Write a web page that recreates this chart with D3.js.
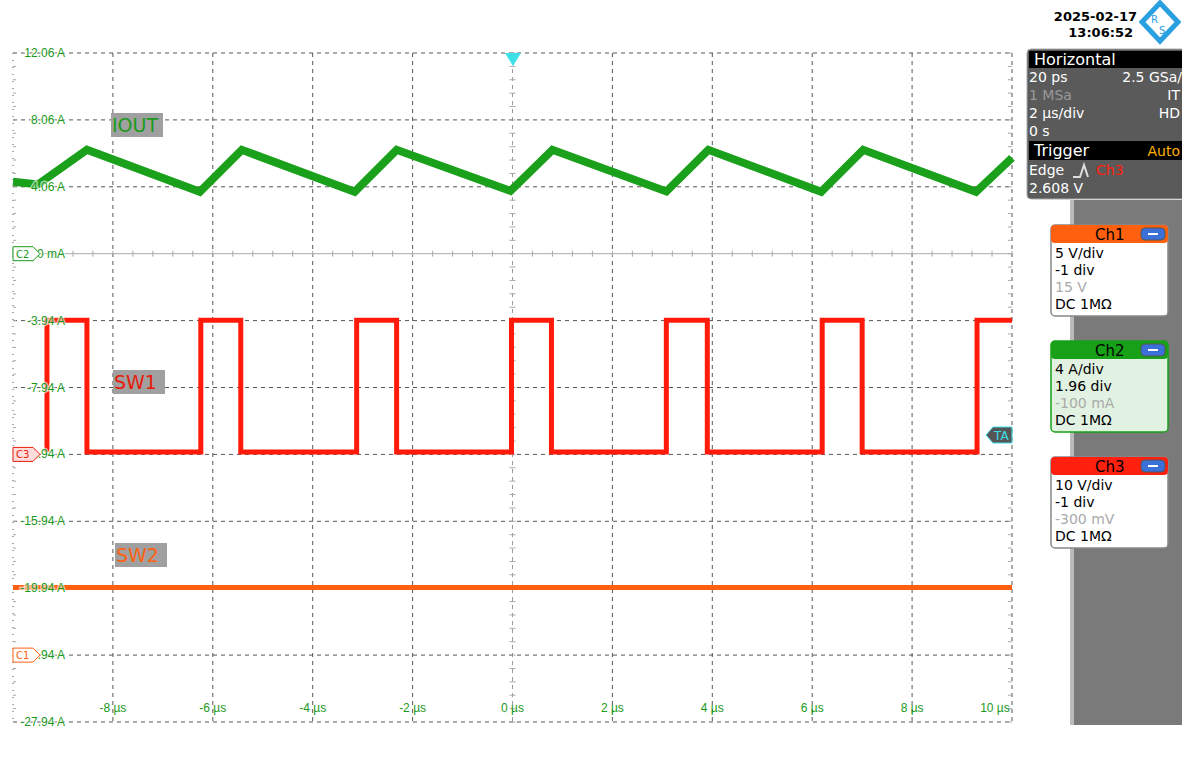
<!DOCTYPE html>
<html><head><meta charset="utf-8">
<script src="https://cdn.jsdelivr.net/npm/d3@7"></script>
<style>body{margin:0;background:#fff}svg{font-family:"DejaVu Sans",sans-serif}</style>
</head><body><svg id="scope" width="1182" height="768"></svg>
<script>
// grid labels
const yTicks = [12.06, 8.06, 4.06, 0.06, -3.94, -7.94, -11.94, -15.94, -19.94, -23.94, -27.94];
const yTickText = ['12.06 A','8.06 A','4.06 A','0 mA','-3.94 A','-7.94 A','-11.94 A','-15.94 A','-19.94 A','-23.94 A','-27.94 A'];
const xTicks = [-8, -6, -4, -2, 0, 2, 4, 6, 8, 10];

// IOUT (A) vertex points, time in us
const ioutT = [-10, -9.5, -8.52, -6.26, -5.42, -3.16, -2.32, -0.04, 0.8, 3.08, 3.92, 6.18, 7.02, 9.28, 10];
const ioutV = [4.36, 4.2, 6.27, 3.76, 6.27, 3.76, 6.27, 3.82, 6.27, 3.78, 6.27, 3.76, 6.27, 3.76, 5.79];

// SW1 edges (us) and levels on the A grid
const sw1Edges = [-9.32, -8.52, -6.24, -5.44, -3.12, -2.32, -0.02, 0.78, 3.08, 3.9, 6.2, 7.0, 9.3];
const sw1High = -3.92, sw1Low = -11.8;
const sw2Level = -19.9;

const svg = d3.select('#scope');
const x = d3.scaleLinear().domain([-10, 10]).range([13, 1012]);
const y = d3.scaleLinear().domain([-27.94, 12.06]).range([722, 53]);

// grid
const g = svg.append('g');
g.selectAll('.vg').data(d3.range(-10, 10.1, 2)).enter().append('line')
  .attr('x1', d => x(d)).attr('x2', d => x(d)).attr('y1', 53).attr('y2', 722)
  .attr('stroke', d => d === 0 ? '#999' : '#555').attr('stroke-dasharray', d => d === -10 ? '1,6' : '4,4');
g.selectAll('.hg').data(yTicks).enter().append('line')
  .attr('x1', 13).attr('x2', 1012).attr('y1', d => y(d)).attr('y2', d => y(d))
  .attr('stroke', d => d === 0.06 ? '#aaa' : '#555').attr('stroke-dasharray', d => d === 0.06 ? null : '4,4');
const minorX = d3.range(-10, 10.01, 0.4);
g.selectAll('.mx').data(minorX).enter().append('line')
  .attr('x1', d => x(d)).attr('x2', d => x(d)).attr('y1', y(0.06) - 3).attr('y2', y(0.06) + 3).attr('stroke', '#aaa');
const minorY = d3.range(-27.94, 12.07, 0.8);
g.selectAll('.my').data(minorY).enter().append('line')
  .attr('x1', x(0) - 3).attr('x2', x(0) + 3).attr('y1', d => y(d)).attr('y2', d => y(d)).attr('stroke', '#aaa');
g.selectAll('.myl').data(minorY).enter().append('line')
  .attr('x1', 13).attr('x2', 16).attr('y1', d => y(d)).attr('y2', d => y(d)).attr('stroke', '#aaa');
g.selectAll('.myr').data(minorY).enter().append('line')
  .attr('x1', 1008).attr('x2', 1012).attr('y1', d => y(d)).attr('y2', d => y(d)).attr('stroke', '#aaa');

// traces
const line = d3.line().x(d => x(d[0])).y(d => y(d[1]));
svg.append('path').datum(ioutT.map((t, i) => [t, ioutV[i]]))
  .attr('d', line).attr('fill', 'none').attr('stroke', '#1aa01a').attr('stroke-width', 8);

const sw1 = [[sw1Edges[0], sw1Low + 0.3]];
sw1Edges.forEach((t, i) => {
  const hiBefore = i % 2 === 1;
  sw1.push([t, hiBefore ? sw1High : sw1Low]);
  sw1.push([t, hiBefore ? sw1Low : sw1High]);
});
sw1.push([10, sw1High]);
svg.append('path').datum(sw1).attr('d', line).attr('fill', 'none')
  .attr('stroke', '#ff1a0a').attr('stroke-width', 5);
svg.append('path').datum([[-10, sw2Level], [10, sw2Level]]).attr('d', line)
  .attr('stroke', '#ff6010').attr('stroke-width', 5);

// y / x labels (on top of traces, like the scope)
svg.selectAll('.yl').data(yTicks).enter().append('text')
  .attr('x', 65).attr('y', d => y(d) + 4).attr('text-anchor', 'end')
  .attr('font-family', 'Liberation Sans, Arial').attr('font-size', 12).attr('fill', '#1a9a1a')
  .attr('paint-order', 'stroke').attr('stroke', 'rgba(255,255,255,0.6)').attr('stroke-width', 3)
  .text((d, i) => yTickText[i]);
svg.selectAll('.xl').data(xTicks).enter().append('text')
  .attr('x', d => d === 10 ? x(d) - 17 : x(d)).attr('y', 712).attr('text-anchor', 'middle')
  .attr('font-family', 'Liberation Sans, Arial').attr('font-size', 12).attr('fill', '#1a9a1a').text(d => d + ' µs');

// channel labels
function tag(txt, px, py, col) {
  svg.append('rect').attr('x', px).attr('y', py).attr('width', 52).attr('height', 24).attr('fill', '#a0a0a0');
  svg.append('text').attr('x', px + 1).attr('y', py + 19).attr('font-size', 19).attr('fill', col).text(txt);
}
tag('IOUT', 111, 113, '#1a9a1a');
tag('SW1', 113, 370, '#e81a0a');
tag('SW2', 115, 543, '#ff6010');

// left markers
function marker(txt, py, col, fill) {
  svg.append('path').attr('d', `M13,${py - 7}H33L40,${py}L33,${py + 7}H13Z`)
    .attr('fill', fill).attr('stroke', col);
  svg.append('text').attr('x', 16).attr('y', py + 4).attr('font-size', 10).attr('fill', col).text(txt);
}
marker('C2', y(0.06), '#1a9a1a', '#fff');
marker('C3', y(-11.94), '#e81a0a', '#fdd');
marker('C1', y(-23.94), '#ff6010', '#fff');

// trigger markers
svg.append('path').attr('d', `M505,53H521L513,66Z`).attr('fill', '#3ee0e8');
svg.append('path').attr('d', 'M986,435L993,427H1012V443H993Z').attr('fill', '#555').attr('stroke', '#3ee0e8');
svg.append('text').attr('x', 994).attr('y', 440).attr('font-size', 12).attr('fill', '#3ee0e8').text('TA');

// right panel
svg.append('rect').attr('x', 1072).attr('y', 200).attr('width', 110).attr('height', 525).attr('fill', '#7a7a7a');
svg.append('rect').attr('x', 1070).attr('y', 200).attr('width', 4).attr('height', 525).attr('fill', '#bbb');
svg.append('text').attr('x', 1137).attr('y', 21).attr('text-anchor', 'end').attr('font-size', 13).attr('font-weight', 'bold').text('2025-02-17');
svg.append('text').attr('x', 1133).attr('y', 37).attr('text-anchor', 'end').attr('font-size', 13).attr('font-weight', 'bold').text('13:06:52');
svg.append('path').attr('d', 'M1160,3L1178,22L1160,41L1142,22Z').attr('fill', 'none').attr('stroke', '#2aa0e0').attr('stroke-width', 5);
svg.append('text').attr('x', 1151).attr('y', 23).attr('font-size', 10).attr('fill', '#2aa0e0').text('R');
svg.append('text').attr('x', 1159).attr('y', 34).attr('font-size', 10).attr('fill', '#2aa0e0').text('S');

svg.append('rect').attr('x', 1027).attr('y', 49).attr('width', 160).attr('height', 150).attr('rx', 4).attr('fill', '#5a5a5a').attr('stroke', '#aaa');
svg.append('rect').attr('x', 1029).attr('y', 51).attr('width', 153).attr('height', 17).attr('fill', '#000');
svg.append('rect').attr('x', 1029).attr('y', 141).attr('width', 153).attr('height', 19).attr('fill', '#000');
const hz = [['Horizontal', 1034, 65, '#fff', 'start', 16], ['20 ps', 1029, 82, '#fff', 'start', 14],
  ['2.5 GSa/', 1182, 82, '#fff', 'end', 14], ['1 MSa', 1029, 100, '#999', 'start', 14], ['IT', 1180, 100, '#fff', 'end', 14],
  ['2 µs/div', 1029, 118, '#fff', 'start', 14], ['HD', 1180, 118, '#fff', 'end', 14], ['0 s', 1029, 136, '#fff', 'start', 14],
  ['Trigger', 1034, 156, '#fff', 'start', 16], ['Auto', 1180, 156, '#ffb000', 'end', 14],
  ['Edge', 1029, 175, '#fff', 'start', 14], ['Ch3', 1096, 175, '#ff2010', 'start', 14], ['2.608 V', 1029, 193, '#fff', 'start', 14]];
svg.selectAll('.hz').data(hz).enter().append('text').attr('x', d => d[1]).attr('y', d => d[2])
  .attr('fill', d => d[3]).attr('text-anchor', d => d[4]).attr('font-size', d => d[5]).text(d => d[0]);
svg.append('path').attr('d', 'M1073,177H1080L1084,165L1088,177').attr('fill', 'none').attr('stroke', '#ddd').attr('stroke-width', 2);

const chans = [
  {n: 'Ch1', yy: 225, col: '#ff6010', bg: '#fff', lines: ['5 V/div', '-1 div', '15 V', 'DC 1MΩ']},
  {n: 'Ch2', yy: 341, col: '#18a018', bg: '#e2f2e2', lines: ['4 A/div', '1.96 div', '-100 mA', 'DC 1MΩ']},
  {n: 'Ch3', yy: 457, col: '#ff2010', bg: '#fff', lines: ['10 V/div', '-1 div', '-300 mV', 'DC 1MΩ']}];
chans.forEach(c => {
  svg.append('rect').attr('x', 1051).attr('y', c.yy).attr('width', 117).attr('height', 91).attr('rx', 4)
    .attr('fill', c.bg).attr('stroke', c.col === '#18a018' ? c.col : '#888').attr('stroke-width', 1.5);
  svg.append('rect').attr('x', 1051).attr('y', c.yy).attr('width', 117).attr('height', 18).attr('rx', 4).attr('fill', c.col);
  svg.append('text').attr('x', 1095).attr('y', c.yy + 15).attr('font-size', 15).text(c.n);
  svg.append('rect').attr('x', 1141).attr('y', c.yy + 3).attr('width', 24).attr('height', 12).attr('rx', 4).attr('fill', '#3a70d8').attr('stroke', '#555');
  svg.append('rect').attr('x', 1148).attr('y', c.yy + 8).attr('width', 10).attr('height', 2).attr('fill', '#fff');
  c.lines.forEach((l, i) => svg.append('text').attr('x', 1055).attr('y', c.yy + 33 + i * 17)
    .attr('font-size', 14).attr('fill', i === 2 ? '#aaa' : '#000').text(l));
});
</script></body></html>
